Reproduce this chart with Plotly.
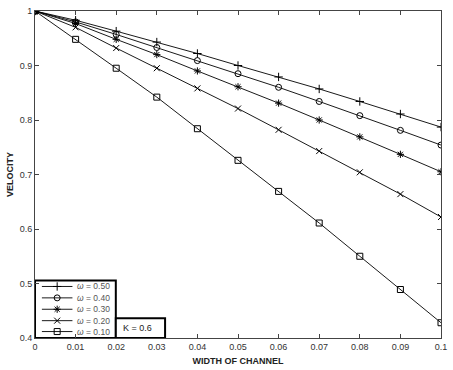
import plotly.graph_objects as go

x_vals = [0, 0.01, 0.02, 0.03, 0.04, 0.05, 0.06, 0.07, 0.08, 0.09, 0.1]
v_050 = [1, 0.983, 0.963, 0.943, 0.922, 0.900, 0.879, 0.857, 0.834, 0.811, 0.787]
v_040 = [1, 0.980, 0.957, 0.933, 0.909, 0.885, 0.860, 0.834, 0.808, 0.781, 0.754]
v_030 = [1, 0.977, 0.948, 0.920, 0.890, 0.861, 0.831, 0.800, 0.769, 0.737, 0.705]
v_020 = [1, 0.970, 0.932, 0.895, 0.858, 0.821, 0.782, 0.743, 0.704, 0.664, 0.622]
v_010 = [1, 0.948, 0.895, 0.842, 0.784, 0.726, 0.669, 0.611, 0.550, 0.489, 0.428]
series_names = ["<i>ω</i> = 0.50", "<i>ω</i> = 0.40", "<i>ω</i> = 0.30", "<i>ω</i> = 0.20", "<i>ω</i> = 0.10"]
series_vals = [v_050, v_040, v_030, v_020, v_010]
symbols = ["cross-thin-open", "circle-open", "asterisk-open", "x-thin-open", "square-open"]
x_ticks = [0, 0.01, 0.02, 0.03, 0.04, 0.05, 0.06, 0.07, 0.08, 0.09, 0.1]
x_ticklabels = ["0", "0.01", "0.02", "0.03", "0.04", "0.05", "0.06", "0.07", "0.08", "0.09", "0.1"]
y_ticks = [0.4, 0.5, 0.6, 0.7, 0.8, 0.9, 1.0]
y_ticklabels = ["0.4", "0.5", "0.6", "0.7", "0.8", "0.9", "1"]
k_label = "K = 0.6"

FONT = "Liberation Sans, Arial"
PLOT_W, PLOT_H = 412, 330  # plot area size in px (used for the legend overlay axis)

fig = go.Figure()
for name, vals, sym in zip(series_names, series_vals, symbols):
    fig.add_trace(go.Scatter(
        x=x_vals, y=vals, name=name, mode="lines+markers", showlegend=False,
        line=dict(color="black", width=0.9),
        marker=dict(symbol=sym, size=6, color="black", line=dict(color="black", width=1)),
    ))

# --- hand-built compact legend (MATLAB-style) on an overlay pixel axis ---
leg_w, leg_h = 82, 58
row_y = [52, 40.5, 29, 17.5, 6.5]
line_x0, line_x1, mark_x, text_x = 7, 38, 22.5, 41

fig.add_shape(type="rect", xref="x2", yref="y2", x0=0, x1=leg_w, y0=0, y1=leg_h,
              line=dict(color="black", width=2), fillcolor="white", layer="below")
for name, sym, ry in zip(series_names, symbols, row_y):
    fig.add_shape(type="line", xref="x2", yref="y2", x0=line_x0, x1=line_x1, y0=ry, y1=ry,
                  line=dict(color="black", width=0.9))
    fig.add_annotation(text=name, xref="x2", yref="y2", x=text_x, y=ry, xanchor="left",
                       yanchor="middle", showarrow=False,
                       font=dict(family=FONT, size=8.5, color="#555"))
fig.add_trace(go.Scatter(
    x=[mark_x] * len(symbols), y=row_y, xaxis="x2", yaxis="y2", mode="markers",
    showlegend=False, hoverinfo="skip",
    marker=dict(symbol=symbols, size=6, color="black", line=dict(color="black", width=1)),
))

# K box
fig.add_shape(type="rect", xref="x2", yref="y2", x0=leg_w, x1=132, y0=0, y1=20,
              line=dict(color="black", width=2), fillcolor="white")
fig.add_annotation(text=k_label, xref="x2", yref="y2", x=leg_w + 5, y=10, xanchor="left",
                   yanchor="middle", showarrow=False,
                   font=dict(family=FONT, size=9, color="#222"))

axis_common = dict(
    showline=True, linecolor="#444", linewidth=1, mirror="ticks",
    ticks="inside", ticklen=4, tickcolor="#444", showgrid=False, zeroline=False,
    tickfont=dict(family=FONT, size=9, color="#333"),
)
fig.update_xaxes(range=[0, 0.1], tickvals=x_ticks, ticktext=x_ticklabels,
                 title=dict(text="<b>WIDTH OF CHANNEL</b>", standoff=6,
                            font=dict(family=FONT, size=9, color="#222")),
                 **axis_common, selector=dict(anchor="y"))
fig.update_yaxes(range=[0.4, 1.0], tickvals=y_ticks, ticktext=y_ticklabels,
                 title=dict(text="<b>VELOCITY</b>", standoff=4,
                            font=dict(family=FONT, size=9, color="#222")),
                 **axis_common, selector=dict(anchor="x"))

fig.update_layout(
    width=453, height=370,
    margin=dict(l=35, r=6, t=9, b=31),
    paper_bgcolor="white", plot_bgcolor="white",
    showlegend=False,
    xaxis=dict(range=[0, 0.1], tickvals=x_ticks, ticktext=x_ticklabels,
               title=dict(text="<b>WIDTH OF CHANNEL</b>", standoff=6,
                          font=dict(family=FONT, size=9, color="#222")),
               **axis_common),
    yaxis=dict(range=[0.4, 1.0], tickvals=y_ticks, ticktext=y_ticklabels,
               title=dict(text="<b>VELOCITY</b>", standoff=4,
                          font=dict(family=FONT, size=9, color="#222")),
               **axis_common),
    xaxis2=dict(overlaying="x", range=[0, PLOT_W], visible=False, anchor="y2"),
    yaxis2=dict(overlaying="y", range=[0, PLOT_H], visible=False, anchor="x2"),
)

fig.write_html("out.html")
